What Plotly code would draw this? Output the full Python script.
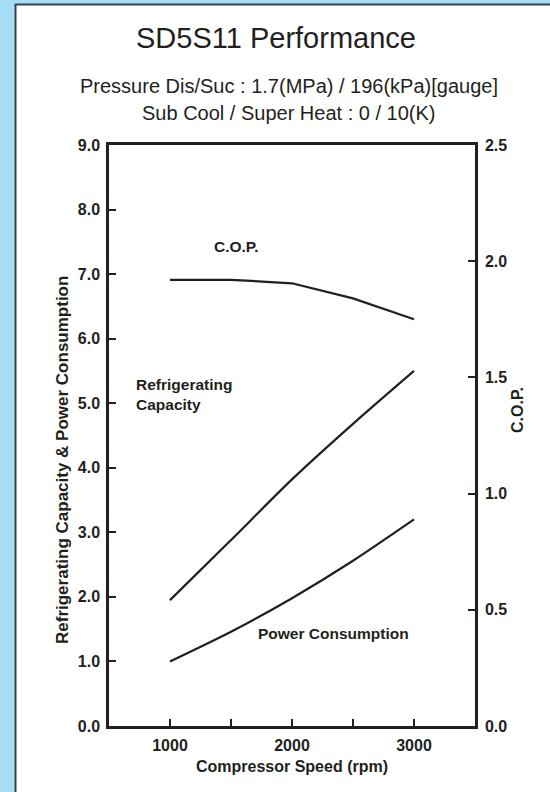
import plotly.graph_objects as go

# ---- data ----
speed_rpm = [1000, 1500, 2000, 2500, 3000]
refrigerating_capacity = [1.95, 2.88, 3.82, 4.68, 5.50]
power_consumption = [1.00, 1.46, 1.98, 2.56, 3.20]
cop = [1.92, 1.92, 1.905, 1.84, 1.75]

x_tickvals = [1000, 1500, 2000, 2500, 3000]
x_ticktext = ["1000", "", "2000", "", "3000"]
y1_tickvals = [0, 1, 2, 3, 4, 5, 6, 7, 8, 9]
y2_tickvals = [0, 0.5, 1.0, 1.5, 2.0, 2.5]

# ---- layout geometry ----
W, H = 550, 792
L, R, T, B = 109, 475, 145, 726
PW, PH = R - L, B - T

def px(x):
    return (x - L) / PW

def py(y):
    return (B - y) / PH

INK = "#231f20"
BLUE = "#a7dcf5"
FONT = "Liberation Sans, Arial, Helvetica, sans-serif"

fig = go.Figure()
fig.add_trace(go.Scatter(x=speed_rpm, y=refrigerating_capacity, mode="lines",
                         line=dict(color=INK, width=2.2, shape="spline", smoothing=0.8),
                         name="Refrigerating Capacity", showlegend=False))
fig.add_trace(go.Scatter(x=speed_rpm, y=power_consumption, mode="lines",
                         line=dict(color=INK, width=2.2, shape="spline", smoothing=0.8),
                         name="Power Consumption", showlegend=False))
fig.add_trace(go.Scatter(x=speed_rpm, y=cop, mode="lines", yaxis="y2",
                         line=dict(color=INK, width=2.2),
                         name="C.O.P.", showlegend=False))

tickfont = dict(family=FONT, size=16, color=INK, weight="bold")
titlefont = dict(family=FONT, size=16, color=INK, weight="bold")
notefont = dict(family=FONT, size=15.5, color=INK, weight="bold")

fig.update_layout(
    width=W, height=H,
    margin=dict(l=L, r=W - R, t=T, b=H - B, pad=0),
    paper_bgcolor=BLUE,
    plot_bgcolor="white",
    showlegend=False,
    xaxis=dict(
        range=[500, 3500], tickvals=x_tickvals, ticktext=x_ticktext,
        ticks="inside", ticklen=7, tickwidth=2, tickcolor=INK,
        showline=True, linewidth=2.5, linecolor=INK, mirror=True,
        showgrid=False, zeroline=False, tickfont=tickfont,
        ticklabelstandoff=3,
        title=dict(text="Compressor Speed (rpm)", font=titlefont, standoff=8),
    ),
    yaxis=dict(
        range=[0, 9], tickvals=y1_tickvals, tickformat=".1f",
        ticks="inside", ticklen=7, tickwidth=2, tickcolor=INK,
        showline=True, linewidth=2.5, linecolor=INK,
        showgrid=False, zeroline=False, tickfont=tickfont,
        ticklabelstandoff=3,
    ),
    yaxis2=dict(
        range=[0, 2.5], tickvals=y2_tickvals, tickformat=".1f",
        overlaying="y", side="right",
        ticks="inside", ticklen=7, tickwidth=2, tickcolor=INK,
        showline=True, linewidth=2.5, linecolor=INK,
        showgrid=False, zeroline=False, tickfont=tickfont,
        ticklabelstandoff=4,
    ),
    shapes=[
        # white panel with dark border on left/top
        dict(type="rect", xref="paper", yref="paper", layer="below",
             x0=px(15), x1=px(560), y0=py(4), y1=py(800),
             fillcolor="white", line=dict(width=0)),
        dict(type="line", xref="paper", yref="paper", layer="below",
             x0=px(15.5), x1=px(15.5), y0=py(4), y1=py(800),
             line=dict(color="#3a3f44", width=2)),
        dict(type="line", xref="paper", yref="paper", layer="below",
             x0=px(15), x1=px(560), y0=py(4.5), y1=py(4.5),
             line=dict(color="#3a3f44", width=2)),
    ],
    annotations=[
        dict(text="SD5S11 Performance", xref="paper", yref="paper",
             x=px(276), y=py(38), showarrow=False, xanchor="center", yanchor="middle",
             font=dict(family=FONT, size=29, color=INK)),
        dict(text="Pressure Dis/Suc : 1.7(MPa) / 196(kPa)[gauge]", xref="paper", yref="paper",
             x=px(289), y=py(86), showarrow=False, xanchor="center", yanchor="middle",
             font=dict(family=FONT, size=20, color=INK)),
        dict(text="Sub Cool / Super Heat : 0 / 10(K)", xref="paper", yref="paper",
             x=px(289), y=py(113), showarrow=False, xanchor="center", yanchor="middle",
             font=dict(family=FONT, size=20, color=INK)),
        # y-axis titles (off-centre in the original)
        dict(text="Refrigerating Capacity & Power Consumption", xref="paper", yref="paper",
             x=px(62), y=py(460), showarrow=False, xanchor="center", yanchor="middle",
             textangle=-90, font=dict(family=FONT, size=17, color=INK, weight="bold")),
        dict(text="C.O.P.", xref="paper", yref="paper",
             x=px(518), y=py(410), showarrow=False, xanchor="center", yanchor="middle",
             textangle=-90, font=titlefont),
        # curve labels
        dict(text="C.O.P.", xref="paper", yref="paper",
             x=px(236), y=py(246), showarrow=False, xanchor="center", yanchor="middle",
             font=notefont),
        dict(text="Refrigerating<br>Capacity", xref="paper", yref="paper",
             x=px(134), y=py(394), showarrow=False, xanchor="left", yanchor="middle",
             align="left", font=notefont),
        dict(text="Power Consumption", xref="paper", yref="paper",
             x=px(256), y=py(633), showarrow=False, xanchor="left", yanchor="middle",
             font=notefont),
    ],
)

fig.write_html("out.html", config={"displayModeBar": False},
               post_script="document.body.style.margin='0';document.body.style.overflow='hidden';")
